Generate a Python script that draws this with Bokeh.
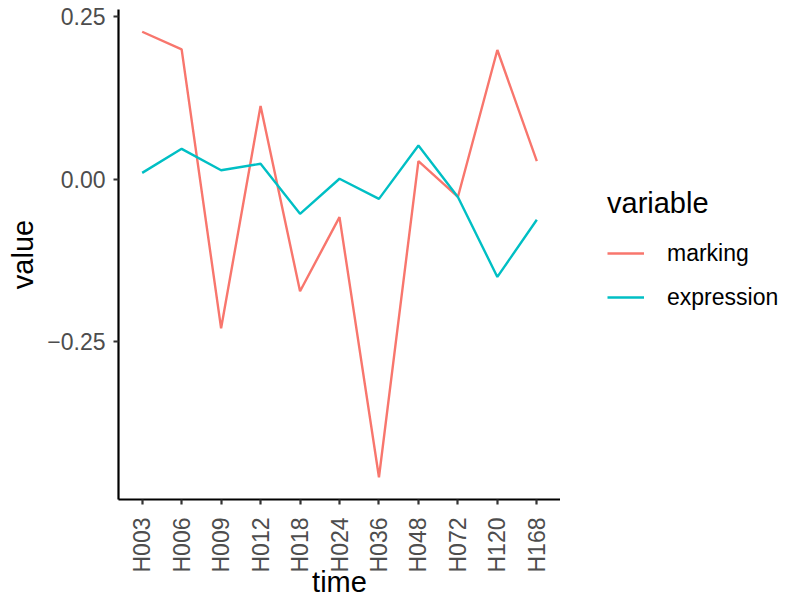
import math
from bokeh.plotting import figure
from bokeh.layouts import row
from bokeh.models import Range1d, FactorRange, FixedTicker, Legend, LegendItem, ColumnDataSource
from bokeh.embed import file_html
from bokeh.resources import INLINE

# ---- data ----
times = ["H003", "H006", "H009", "H012", "H018", "H024", "H036", "H048", "H072", "H120", "H168"]
marking = [0.227, 0.200, -0.229, 0.113, -0.172, -0.058, -0.458, 0.028, -0.027, 0.199, 0.028]
expression = [0.010, 0.047, 0.014, 0.024, -0.053, 0.001, -0.030, 0.052, -0.027, -0.150, -0.062]
y_ticks = [-0.25, 0.0, 0.25]
y_tick_labels = ["\u22120.25", "0.00", "0.25"]
series_names = ["marking", "expression"]
series_colors = ["#F8766D", "#00BFC4"]

FONT = "Liberation Sans"
LW = 2.4

allv = marking + expression
lo, hi = min(allv), max(allv)
pad = 0.05 * (hi - lo)

p = figure(
    width=560, height=601,
    x_range=FactorRange(factors=times, range_padding=0.1, range_padding_units="absolute"),
    y_range=Range1d(lo - pad, hi + pad),
    output_backend="svg", toolbar_location=None,
    min_border_left=118, min_border_right=0, min_border_top=9, min_border_bottom=102,
)
p.outline_line_color = None
p.xgrid.grid_line_color = None
p.ygrid.grid_line_color = None
p.background_fill_color = "white"
p.border_fill_color = "white"

src = ColumnDataSource(dict(time=times, marking=marking, expression=expression))
p.line("time", "marking", source=src, line_color=series_colors[0], line_width=LW)
p.line("time", "expression", source=src, line_color=series_colors[1], line_width=LW)

for ax in (p.xaxis[0], p.yaxis[0]):
    ax.axis_line_color = "black"
    ax.axis_line_width = 2.2
    ax.major_tick_line_color = "#333333"
    ax.major_tick_line_width = 2.2
    ax.major_tick_out = 5
    ax.major_tick_in = 0
    ax.minor_tick_line_color = None
    ax.major_label_text_font = FONT
    ax.major_label_text_font_size = "23px"
    ax.major_label_text_color = "#4D4D4D"
    ax.axis_label_text_font = FONT
    ax.axis_label_text_font_size = "29px"
    ax.axis_label_text_font_style = "normal"
    ax.axis_label_text_color = "black"

p.yaxis.axis_label = "value"
p.yaxis.ticker = FixedTicker(ticks=y_ticks)
p.yaxis.major_label_overrides = {t: l for t, l in zip(y_ticks, y_tick_labels)}
p.yaxis.major_label_standoff = 8
p.yaxis.axis_label_standoff = 5

p.xaxis.axis_label = "time"
p.xaxis.major_label_orientation = math.pi / 2
p.xaxis.major_label_standoff = 13
p.xaxis.axis_label_standoff = -9

# ---- legend panel (separate figure to the right) ----
lp = figure(
    width=225, height=601, x_range=Range1d(0, 1), y_range=Range1d(0, 1),
    x_axis_type=None, y_axis_type=None,
    output_backend="svg", toolbar_location=None,
    min_border_left=0, min_border_right=0, min_border_top=0, min_border_bottom=0,
)
lp.outline_line_color = None
lp.xgrid.grid_line_color = None
lp.ygrid.grid_line_color = None
lp.background_fill_color = "white"
lp.border_fill_color = "white"

# off-screen proxies, only used for the legend keys
k1 = lp.line(x=[-5, -4], y=[-5, -4], line_color=series_colors[0], line_width=LW)
k2 = lp.line(x=[-5, -4], y=[-5, -4], line_color=series_colors[1], line_width=LW)

legend = Legend(
    items=[LegendItem(label=series_names[0], renderers=[k1]),
           LegendItem(label=series_names[1], renderers=[k2])],
    title="variable",
    location=(47, 180),
    margin=0, padding=0,
    glyph_width=37, glyph_height=44, label_height=44,
    label_standoff=23, spacing=0, title_standoff=11,
    border_line_color=None, background_fill_alpha=0,
    label_text_font=FONT, label_text_font_size="23px", label_text_color="black",
    title_text_font=FONT, title_text_font_size="29px", title_text_font_style="normal",
    title_text_color="black",
)
lp.add_layout(legend)

layout = row(p, lp, spacing=0)
open("out.html", "w").write(file_html(layout, INLINE))
